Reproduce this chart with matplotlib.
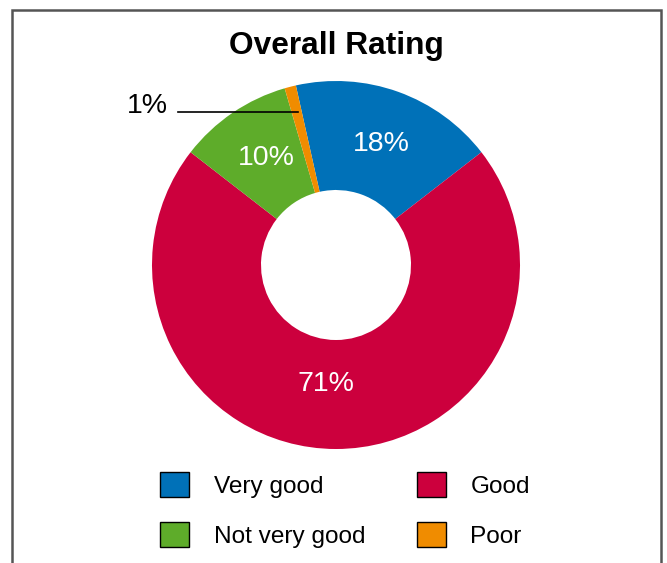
import matplotlib.pyplot as plt
from matplotlib.patches import Rectangle

# Données
labels = ["Very good", "Good", "Not very good", "Poor"]
values = [18, 71, 10, 1]
colors = ["#0071b8", "#cc003d", "#5eac2a", "#f08c00"]
title = "Overall Rating"

plt.rcParams['font.family'] = ['Liberation Sans', 'DejaVu Sans']

W, H = 667, 563
fig = plt.figure(figsize=(W / 100, H / 100), dpi=100)

# cadre gris autour de la figure
fig.patches.append(Rectangle((12 / W, -0.05), 649 / W, 1.05 - 10 / H,
                             transform=fig.transFigure, fill=False,
                             edgecolor="#555555", linewidth=1.8))

# axes du donut : centre (336, 265), rayon 184 px
cx, cy, r = 336, 265, 184
ax = fig.add_axes([(cx - r) / W, 1 - (cy + r) / H, 2 * r / W, 2 * r / H])
wedges, _ = ax.pie(values, colors=colors, startangle=102.6, counterclock=False,
                   wedgeprops=dict(width=1 - 75 / 184, linewidth=0))
ax.set_xlim(-1, 1)
ax.set_ylim(-1, 1)

# étiquettes en pourcentage (positions pixels -> coordonnées données)
def px(x, y):
    return ((x - cx) / r, (cy - y) / r)

lab_pos = [(381, 144), (326, 384), (266, 158)]
for i in range(3):
    ax.text(*px(*lab_pos[i]), f"{values[i]}%", color="white", fontsize=20.5,
            ha="center", va="center")

# petite part : étiquette à l'extérieur avec trait horizontal
x0, y0 = px(178, 112)
x1, y1 = px(298, 112)
ax.plot([x0, x1], [y0, y1], color="black", lw=1.2, clip_on=False)
ax.text(*px(147, 106), f"{values[3]}%", fontsize=20.5, ha="center", va="center")

fig.text(336 / W, 1 - 46 / H, title, fontsize=22.8, fontweight="bold",
         ha="center", va="center")

# légende (ordre colonne par colonne)
order = [0, 2, 1, 3]
fig.legend([wedges[i] for i in order], [labels[i] for i in order], ncol=2,
           loc="upper left", bbox_to_anchor=(160 / W, 1 - 472 / H),
           frameon=False, fontsize=17.6, handlelength=1.2, handleheight=1.2,
           handletextpad=1.0, columnspacing=2.1, labelspacing=1.0,
           borderpad=0, borderaxespad=0)
for h in fig.legends[0].legend_handles:
    h.set_edgecolor("black")
    h.set_linewidth(1)

fig.savefig("out.png", dpi=100)
